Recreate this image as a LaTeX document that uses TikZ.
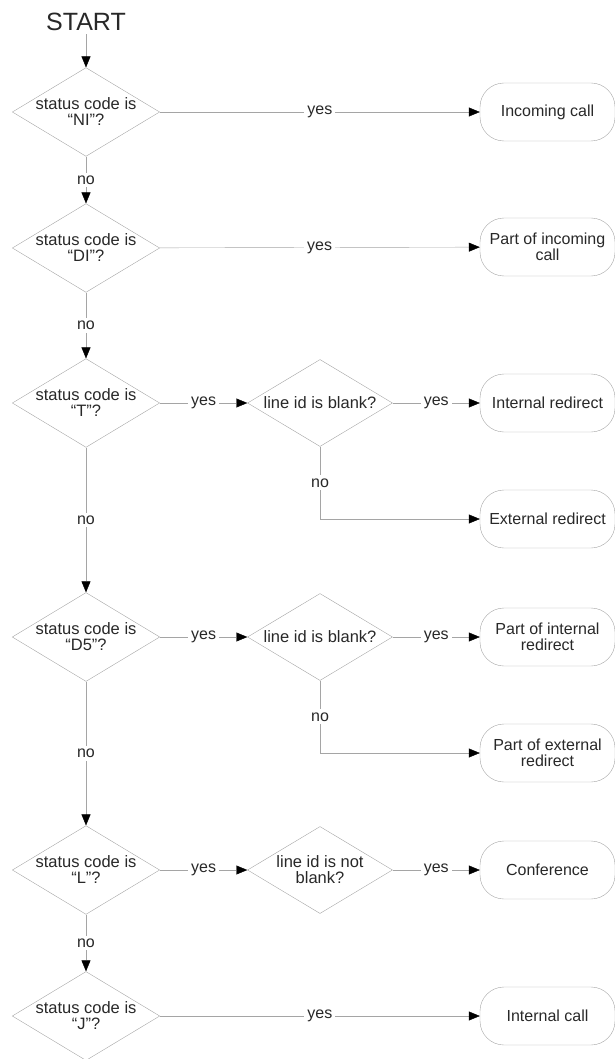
\documentclass[tikz,border=0pt]{standalone}
\usepackage{fontspec}
\setmainfont{Liberation Sans}
\usepackage{tikz}
\usetikzlibrary{arrows.meta, shapes.geometric}
\definecolor{linegray}{RGB}{165,165,165}
\definecolor{textgray}{RGB}{40,40,40}
\tikzset{
>={Triangle[length=11pt, width=9pt, color=black]},
line width=0.9pt,
text=textgray,
vh path/.style={to path={|- (\tikztotarget) \tikztonodes}},
decision/.style={%
    diamond,
    shape aspect=1.66,
    minimum width=143pt,
    minimum height=86pt,
    inner sep=0pt,
    draw=linegray,
    align=center,
    font=\fontsize{16.5}{16}\selectfont
},
outcome/.style={%
    rectangle,
    rounded corners=24pt,
    minimum width=135pt,
    minimum height=58pt,
    draw=linegray,
    align=center,
    font=\fontsize{16}{16}\selectfont
},
lbl/.style={fill=white, inner sep=3pt, font=\fontsize{16}{16}\selectfont},
}

\begin{document}
\begin{tikzpicture}[x=1pt, y=-1pt, every edge/.append style={->, draw=linegray}]
	\useasboundingbox (0,0) rectangle (615,1059);

	\node[font=\fontsize{25}{25}\selectfont] at (86,22) (start) {START};

	% left column
	\node[decision] at (86,112) (d1) {status code is\\“NI”?};
	\node[decision] at (86,248) (d2) {status code is\\“DI”?};
	\node[decision] at (86,403) (d3) {status code is\\“T”?};
	\node[decision] at (86,637) (d4) {status code is\\“D5”?};
	\node[decision] at (86,870) (d5) {status code is\\“L”?};
	\node[decision] at (86,1016) (d6) {status code is\\“J”?};

	% middle column
	\node[decision, minimum width=145pt, minimum height=87pt] at (320,403) (c3) {line id is blank?};
	\node[decision, minimum width=145pt, minimum height=87pt] at (320,637) (c4) {line id is blank?};
	\node[decision, minimum width=145pt, minimum height=87pt] at (320,870) (c5) {line id is not\\blank?};

	% right column
	\node[outcome] at (547.5,112) (t1) {Incoming call};
	\node[outcome] at (547.5,247) (t2) {Part of incoming\\call};
	\node[outcome] at (547.5,403) (t3) {Internal redirect};
	\node[outcome] at (547.5,519) (t4) {External redirect};
	\node[outcome] at (547.5,637) (t5) {Part of internal\\redirect};
	\node[outcome] at (547.5,753) (t6) {Part of external\\redirect};
	\node[outcome] at (547.5,870) (t7) {Conference};
	\node[outcome] at (547.5,1016) (t8) {Internal call};

	\path (start) edge (d1);

	\path (d1) edge node[lbl] {yes} (t1);
	\path (d1) edge node[lbl] {no} (d2);
	\path (d2) edge node[lbl] {yes} (t2);
	\path (d2) edge node[lbl] {no} (d3);

	\path (d3) edge node[lbl] {yes} (c3);
	\path (c3) edge node[lbl] {yes} (t3);
	\path (c3) edge[vh path] node[lbl, pos=0.25] {no} (t4);
	\path (d3) edge node[lbl] {no} (d4);

	\path (d4) edge node[lbl] {yes} (c4);
	\path (c4) edge node[lbl] {yes} (t5);
	\path (c4) edge[vh path] node[lbl, pos=0.25] {no} (t6);
	\path (d4) edge node[lbl] {no} (d5);

	\path (d5) edge node[lbl] {yes} (c5);
	\path (c5) edge node[lbl] {yes} (t7);
	\path (d5) edge node[lbl] {no} (d6);

	\path (d6) edge node[lbl] {yes} (t8);
\end{tikzpicture}
\end{document}
